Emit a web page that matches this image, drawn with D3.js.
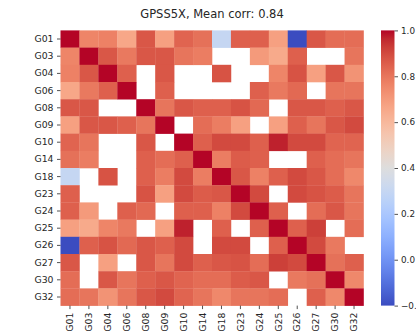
<!DOCTYPE html>
<html>
<head>
<meta charset="utf-8">
<script src="https://cdn.jsdelivr.net/npm/d3@7"></script>
<style>
  html, body { margin: 0; padding: 0; background: #fff; }
  svg { display: block; }
  text { font-family: "DejaVu Sans", sans-serif; fill: #262626; }
</style>
</head>
<body>
<svg id="chart" width="416" height="331"></svg>
<script>
// Satellite identifiers (rows and columns share the same order)
const satellites = ["G01","G03","G04","G06","G08","G09","G10","G14","G18","G23","G24","G25","G26","G27","G30","G32"];

// Pairwise correlation matrix; null marks pairs without enough overlap
const corr = [
  [1.00,0.76,0.77,0.66,0.87,0.68,0.84,0.81,0.30,0.85,0.85,0.68,-0.20,0.87,0.82,0.82],
  [0.76,1.00,0.87,0.79,0.87,0.87,0.80,0.78,null,null,0.70,0.65,0.85,null,null,0.80],
  [0.77,0.87,1.00,0.85,null,0.87,null,null,0.88,null,null,0.76,0.88,0.68,0.87,0.72],
  [0.66,0.79,0.85,1.00,null,0.85,null,null,null,null,0.85,0.79,0.83,null,0.80,0.80],
  [0.87,0.87,null,null,1.00,0.80,0.87,0.85,0.85,0.88,0.83,null,0.87,0.87,0.85,0.87],
  [0.68,0.87,0.87,0.85,0.80,1.00,null,0.82,0.78,0.68,null,0.68,0.85,0.80,0.87,0.90],
  [0.84,0.80,null,null,0.87,null,1.00,0.85,0.90,0.90,0.85,0.97,0.90,0.90,0.84,0.84],
  [0.81,0.78,null,null,0.85,0.82,0.85,1.00,0.78,0.86,0.85,null,null,0.85,0.82,0.80],
  [0.30,null,0.88,null,0.85,0.78,0.90,0.78,1.00,0.87,0.77,0.85,0.90,0.87,0.82,0.75],
  [0.85,null,null,null,0.88,0.68,0.90,0.86,0.87,1.00,0.90,null,0.90,0.88,0.86,0.80],
  [0.85,0.70,null,0.85,0.83,null,0.85,0.85,0.77,0.90,1.00,0.85,null,0.82,0.87,0.80],
  [0.68,0.65,0.76,0.79,null,0.68,0.97,null,0.85,null,0.85,1.00,0.85,0.92,null,0.82],
  [-0.20,0.85,0.88,0.83,0.87,0.85,0.90,null,0.90,0.90,null,0.85,1.00,0.90,0.79,null],
  [0.87,null,0.68,null,0.87,0.80,0.90,0.85,0.87,0.88,0.82,0.92,0.90,1.00,0.81,0.85],
  [0.82,null,0.87,0.80,0.85,0.87,0.84,0.82,0.82,0.86,0.87,null,0.79,0.81,1.00,0.75],
  [0.82,0.80,0.72,0.80,0.87,0.90,0.84,0.80,0.75,0.80,0.80,0.82,null,0.85,0.75,1.00]
];

const colorTicks = [-0.2, 0.0, 0.2, 0.4, 0.6, 0.8, 1.0];
const titleText = "GPSS5X, Mean corr: 0.84";

// Diverging cool-warm colour map (Moreland), sampled at 33 points
const coolwarmStops = [
  [59,76,192],[68,90,204],[77,104,215],[87,117,225],[98,130,234],[108,142,241],
  [119,154,247],[130,165,251],[141,176,254],[152,185,255],[163,194,255],[174,201,253],
  [184,208,249],[194,213,244],[204,217,238],[213,219,230],[221,221,221],[229,216,209],
  [236,211,197],[241,204,185],[245,196,173],[247,187,160],[247,177,148],[247,166,135],
  [244,154,123],[241,141,111],[236,127,99],[229,112,88],[222,96,77],[213,80,66],
  [203,62,56],[192,40,47],[180,4,38]
].map(c => d3.rgb(c[0], c[1], c[2]).formatHex());
const coolwarm = d3.piecewise(d3.interpolateRgb, coolwarmStops);

const vmin = -0.2, vmax = 1.0;
const color = d3.scaleSequential(coolwarm).domain([vmin, vmax]);

const svg = d3.select("#chart");

const plot = { left: 60.5, top: 30.4, width: 303, height: 275.2 };

const x = d3.scaleBand().domain(satellites).range([plot.left, plot.left + plot.width]);
const y = d3.scaleBand().domain(satellites).range([plot.top, plot.top + plot.height]);

// Cells
const cells = [];
corr.forEach((row, i) => row.forEach((v, j) => {
  if (v !== null) cells.push({ r: satellites[i], c: satellites[j], v });
}));

svg.append("g")
  .selectAll("rect")
  .data(cells)
  .join("rect")
  .attr("x", d => x(d.c))
  .attr("y", d => y(d.r))
  .attr("width", x.bandwidth() + 0.3)
  .attr("height", y.bandwidth() + 0.3)
  .attr("fill", d => color(d.v));

// Axes
const tickFont = "9.3px";

const yAxis = svg.append("g")
  .attr("transform", `translate(${plot.left},0)`)
  .call(d3.axisLeft(y).tickSize(3.5).tickPadding(3.5));
yAxis.select(".domain").remove();
yAxis.selectAll("line").attr("stroke", "#262626").attr("stroke-width", 0.8);
yAxis.selectAll("text").style("font-size", tickFont).attr("fill", "#262626")
  .style("font-family", "DejaVu Sans, sans-serif");

const xAxis = svg.append("g")
  .attr("transform", `translate(0,${plot.top + plot.height})`)
  .call(d3.axisBottom(x).tickSize(3.5).tickPadding(3.5));
xAxis.select(".domain").remove();
xAxis.selectAll("line").attr("stroke", "#262626").attr("stroke-width", 0.8);
xAxis.selectAll("text")
  .style("font-size", tickFont)
  .style("font-family", "DejaVu Sans, sans-serif")
  .attr("fill", "#262626")
  .attr("transform", "rotate(-90)")
  .attr("text-anchor", "end")
  .attr("x", -7)
  .attr("y", 0)
  .attr("dy", "0.35em");

// Title
svg.append("text")
  .attr("x", plot.left + plot.width / 2)
  .attr("y", 18)
  .attr("text-anchor", "middle")
  .style("font-size", "11.5px")
  .text(titleText);

// Colour bar
const cb = { left: 381, width: 13.5, top: 30.4, height: 275.2 };
const cbScale = d3.scaleLinear().domain([vmin, vmax]).range([cb.top + cb.height, cb.top]);

const defs = svg.append("defs");
const grad = defs.append("linearGradient")
  .attr("id", "cbgrad")
  .attr("x1", "0").attr("y1", "1").attr("x2", "0").attr("y2", "0");
d3.range(0, 1.0001, 1 / 32).forEach(t => {
  grad.append("stop")
    .attr("offset", `${t * 100}%`)
    .attr("stop-color", coolwarm(t));
});

svg.append("rect")
  .attr("x", cb.left)
  .attr("y", cb.top)
  .attr("width", cb.width)
  .attr("height", cb.height)
  .attr("fill", "url(#cbgrad)");

const cbAxis = svg.append("g")
  .attr("transform", `translate(${cb.left + cb.width},0)`)
  .call(d3.axisRight(cbScale).tickValues(colorTicks).tickFormat(d3.format(".1f")).tickSize(3.5).tickPadding(3));
cbAxis.select(".domain").remove();
cbAxis.selectAll("line").attr("stroke", "#262626").attr("stroke-width", 0.8);
cbAxis.selectAll("text")
  .style("font-size", "8.8px")
  .style("font-family", "DejaVu Sans, sans-serif")
  .attr("fill", "#262626")
  .text(d => d3.format(".1f")(d).replace("-", "\u2212"));
</script>
</body>
</html>
